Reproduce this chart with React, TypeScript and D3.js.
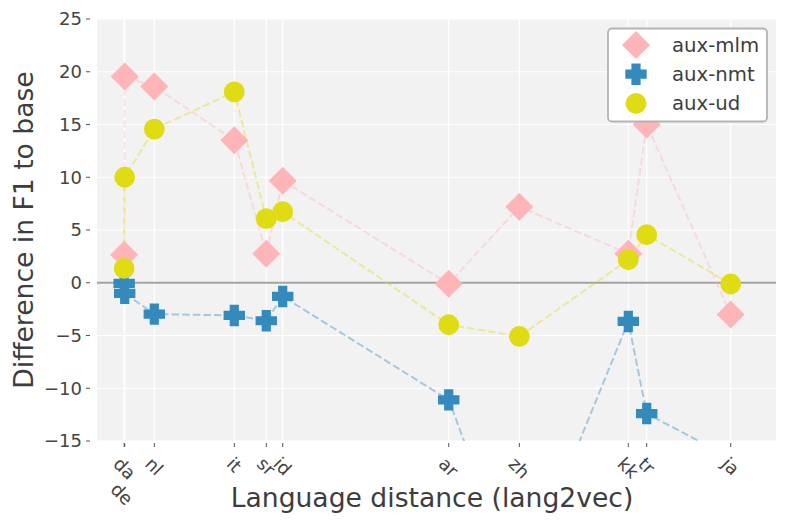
import React, { useEffect, useRef } from 'react'
import * as d3 from 'd3'

// languages in plotting order (distance from English, lang2vec)
const languages = ['de', 'da', 'nl', 'it', 'sr', 'id', 'ar', 'zh', 'kk', 'tr', 'ja']
const distance = [0.04, 0.0408, 0.0844, 0.2022, 0.2493, 0.2735, 0.518, 0.622, 0.7825, 0.8096, 0.9333]
const tickLabels = ['\nde', 'da', 'nl', 'it', 'sr', 'id', 'ar', 'zh', 'kk', 'tr', 'ja']

const auxMlm = [2.65, 19.55, 18.6, 13.5, 2.75, 9.67, -0.1, 7.2, 2.75, 15.0, -3.0]
const auxNmt = [-0.05, -1.0, -2.97, -3.1, -3.6, -1.3, -11.1, -29, -3.67, -12.4, -16.6]
const auxUd = [1.36, 10.0, 14.57, 18.1, 6.07, 6.73, -3.98, -5.09, 2.18, 4.55, -0.12]

const seriesNames = ['aux-mlm', 'aux-nmt', 'aux-ud']
const yTicks = [-15, -10, -5, 0, 5, 10, 15, 20, 25]

const colors = ['#ffb5b8', '#348abd', '#dfdc14']
const shapes = ['diamond', 'plus', 'circle']
const FONT = '"DejaVu Sans", sans-serif'

const App: React.FC = () => {
  const svgRef = useRef<SVGSVGElement | null>(null)

  useEffect(() => {
    if (!svgRef.current) return
    const svg = d3.select(svgRef.current)
    svg.selectAll('*').remove()

    const margin = { top: 19, right: 12, bottom: 86, left: 97 }
    const width = 788
    const height = 527

    const x = d3.scaleLinear().domain([0, 1]).range([margin.left, width - margin.right])
    const y = d3.scaleLinear().domain([-15, 25]).range([height - margin.bottom, margin.top])

    svg.append('defs').append('clipPath').attr('id', 'plot-clip')
      .append('rect')
      .attr('x', margin.left).attr('y', margin.top)
      .attr('width', width - margin.left - margin.right)
      .attr('height', height - margin.top - margin.bottom)

    // background
    svg.append('rect')
      .attr('x', margin.left).attr('y', margin.top)
      .attr('width', width - margin.left - margin.right)
      .attr('height', height - margin.top - margin.bottom)
      .attr('fill', '#f2f2f2')

    // grid
    svg.append('g').selectAll('line').data(yTicks).enter().append('line')
      .attr('x1', margin.left).attr('x2', width - margin.right)
      .attr('y1', (d) => y(d)).attr('y2', (d) => y(d))
      .attr('stroke', '#fff').attr('stroke-width', 1.2)
    svg.append('g').selectAll('line').data(distance).enter().append('line')
      .attr('x1', (d) => x(d)).attr('x2', (d) => x(d))
      .attr('y1', margin.top).attr('y2', height - margin.bottom)
      .attr('stroke', '#fff').attr('stroke-width', 1.2)

    // zero line
    svg.append('line')
      .attr('x1', margin.left).attr('x2', width - margin.right)
      .attr('y1', y(0)).attr('y2', y(0))
      .attr('stroke', '#a3a3a3').attr('stroke-width', 2.2)

    const fs = 18

    // y axis
    const yAxis = svg.append('g')
    yAxis.selectAll('line').data(yTicks).enter().append('line')
      .attr('x1', 86).attr('x2', 90)
      .attr('y1', (d) => y(d)).attr('y2', (d) => y(d))
      .attr('stroke', '#555').attr('stroke-width', 1)
    yAxis.selectAll('text').data(yTicks).enter().append('text')
      .attr('x', 82).attr('y', (d) => y(d))
      .attr('dy', '0.36em')
      .attr('text-anchor', 'end')
      .attr('font-family', FONT).attr('font-size', fs)
      .attr('fill', '#444')
      .text((d) => (d < 0 ? '\u2212' + Math.abs(d) : String(d)))

    // x axis, labels rotated 45 degrees below each tick
    const bottom = height - margin.bottom
    const xAxis = svg.append('g')
    xAxis.selectAll('line').data(distance).enter().append('line')
      .attr('x1', (d) => x(d)).attr('x2', (d) => x(d))
      .attr('y1', bottom + 2).attr('y2', bottom + 6)
      .attr('stroke', '#555').attr('stroke-width', 1)
    tickLabels.forEach((label, i) => {
      const lines = label.split('\n')
      const g = xAxis.append('g')
      const t = g.append('text')
        .attr('font-family', FONT).attr('font-size', fs)
        .attr('fill', '#444').attr('text-anchor', 'middle')
      const lineH = fs * 1.45
      lines.forEach((ln, j) => {
        t.append('tspan')
          .attr('x', j > 0 ? 10 : 0)
          .attr('y', (j - (lines.length - 1) / 2) * lineH)
          .attr('dy', '0.36em')
          .text(ln)
      })
      const w = d3.max(t.selectAll<SVGTSpanElement, unknown>('tspan').nodes(), (n) => n.getComputedTextLength()) || 0
      const h = fs * 1.16 + (lines.length - 1) * lineH
      const side = (w + h) / Math.SQRT2
      g.attr('transform', `translate(${x(distance[i])},${bottom + 12 + side / 2}) rotate(45)`)
    })

    // axis titles
    svg.append('text')
      .attr('x', 432).attr('y', 507)
      .attr('text-anchor', 'middle')
      .attr('font-family', FONT).attr('font-size', 26.6)
      .attr('fill', '#3d3d3d')
      .text('Language distance (lang2vec)')
    svg.append('text')
      .attr('transform', `translate(33,${(margin.top + bottom) / 2}) rotate(-90)`)
      .attr('text-anchor', 'middle')
      .attr('font-family', FONT).attr('font-size', 26.6)
      .attr('fill', '#3d3d3d')
      .text('Difference in F1 to base')

    const series = [auxMlm, auxNmt, auxUd]
    const plot = svg.append('g').attr('clip-path', 'url(#plot-clip)')

    const line = d3.line<number>()
      .x((_, i) => x(distance[i]))
      .y((d) => y(d))

    series.forEach((vals, s) => {
      plot.append('path')
        .attr('d', line(vals))
        .attr('fill', 'none')
        .attr('stroke', colors[s])
        .attr('stroke-opacity', 0.4)
        .attr('stroke-width', 2)
        .attr('stroke-dasharray', '7.4,3.2')
    })

    const drawMarker = (
      sel: d3.Selection<SVGGElement, unknown, null, undefined>,
      shape: string,
      color: string,
      cx: number,
      cy: number,
    ) => {
      if (shape === 'diamond') {
        const r = 14
        sel.append('path')
          .attr('d', `M${cx},${cy - r}L${cx + r},${cy}L${cx},${cy + r}L${cx - r},${cy}Z`)
          .attr('fill', color)
      } else if (shape === 'plus') {
        const a = 10.7
        const b = 4.6
        sel.append('path')
          .attr('d', `M${cx - b},${cy - a}H${cx + b}V${cy - b}H${cx + a}V${cy + b}H${cx + b}V${cy + a}H${cx - b}V${cy + b}H${cx - a}V${cy - b}H${cx - b}Z`)
          .attr('fill', color)
      } else {
        sel.append('circle')
          .attr('cx', cx).attr('cy', cy).attr('r', 10.4)
          .attr('fill', color)
      }
    }

    series.forEach((vals, s) => {
      const g = plot.append('g')
      vals.forEach((v, i) => drawMarker(g, shapes[s], colors[s], x(distance[i]), y(v)))
    })

    // legend
    const legend = svg.append('g')
    legend.append('rect')
      .attr('x', 608).attr('y', 28.5)
      .attr('width', 159).attr('height', 93)
      .attr('rx', 4)
      .attr('fill', '#fff')
      .attr('stroke', '#b3b3b3').attr('stroke-width', 1.8)
    seriesNames.forEach((name, s) => {
      const ry = 45 + s * 29.2
      drawMarker(legend, shapes[s], colors[s], 636, ry)
      legend.append('text')
        .attr('x', 672).attr('y', ry)
        .attr('dy', '0.36em')
        .attr('font-family', FONT).attr('font-size', 19.7)
        .attr('fill', '#3d3d3d')
        .text(name)
    })
  }, [])

  return (
    <svg
      ref={svgRef}
      width={788}
      height={527}
      style={{ position: 'absolute', left: 0, top: 0, background: '#fff' }}
    />
  )
}

export default App
